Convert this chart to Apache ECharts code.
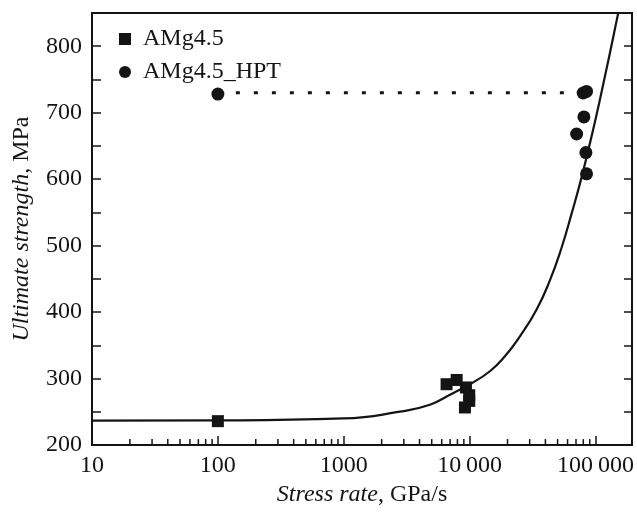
<!DOCTYPE html>
<html>
<head>
<meta charset="utf-8">
<script src="https://cdn.jsdelivr.net/npm/echarts@6/dist/echarts.min.js"></script>
<style>
html,body{margin:0;padding:0;background:#fff;}
#chart{width:637px;height:512px;}
</style>
</head>
<body>
<div id="chart"></div>
<script>
// ---- data ----
const seriesNames = ['AMg4.5', 'AMg4.5_HPT'];
// AMg4.5 (squares): [stress rate GPa/s, ultimate strength MPa]
const amgRate     = [100, 6560, 7890, 9350, 9930, 9930, 9180];
const amgStrength = [236, 291.6, 298, 286.7, 275, 266.5, 256.6];
// AMg4.5_HPT (circles)
const hptRate     = [100, 79800, 84900, 80900, 70800, 83900, 84900];
const hptStrength = [728, 729.7, 732, 693.7, 668, 640, 608];
// dotted connector
const dotRate     = [100, 80000];
const dotStrength = [730, 730];
// fitted curve
const curveRate     = [10, 100, 1000, 2790, 4840, 6980, 10050, 14490, 19070, 25100, 34070, 43420, 53830, 64600, 75220, 87040, 108400, 151400];
const curveStrength = [236.8, 237.2, 240.1, 250.3, 260.8, 275.8, 291.6, 311.1, 333.6, 363.6, 404.1, 447.7, 497.2, 548.2, 593.3, 641.3, 719.4, 849.5];
// axis ticks
const xTickValues = [10, 100, 1000, 10000, 100000];
const xTickLabels = ['10', '100', '1000', '10\u2009000', '100\u2009000'];
const xMinorTicks = [20,30,40,50,60,70,80,90,200,300,400,500,600,700,800,900,2000,3000,4000,5000,6000,7000,8000,9000,20000,30000,40000,50000,60000,70000,80000,90000];
const yTickLabels = ['200','300','400','500','600','700','800'];

const pairs = (a, b) => a.map((v, i) => [v, b[i]]);
const FONT = "'Liberation Serif', 'Times New Roman', Times, serif";
const INK = '#141414';

const chart = echarts.init(document.getElementById('chart'), null, {renderer: 'canvas'});
chart.setOption({
  backgroundColor: '#fff',
  animation: false,
  grid: {left: 92, right: 5, top: 13, bottom: 66, show: true, borderColor: INK, borderWidth: 2, backgroundColor: 'transparent'},
  legend: {
    orient: 'vertical', left: 114, top: 22, itemWidth: 12, itemHeight: 12, itemGap: 9,
    data: [{name: seriesNames[0], icon: 'rect'}, {name: seriesNames[1], icon: 'circle'}],
    itemStyle: {opacity: 1},
    textStyle: {fontFamily: FONT, fontSize: 24, color: INK, padding: [0, 0, 0, 7]}
  },
  xAxis: {
    type: 'log', logBase: 10, min: 10, max: 195000,
    axisLine: {show: true, lineStyle: {color: INK, width: 2}},
    axisTick: {show: true, inside: true, length: 9, lineStyle: {color: INK, width: 1.5}},
    splitLine: {show: false},
    axisLabel: {
      fontFamily: FONT, fontSize: 24, color: INK, margin: 9, showMaxLabel: false,
      formatter: v => { const i = xTickValues.findIndex(t => Math.abs(t - v) / t < 1e-6); return i >= 0 ? xTickLabels[i] : ''; }
    },
    name: '{i|Stress rate}{n|, GPa/s}', nameLocation: 'middle', nameGap: 36,
    nameTextStyle: {rich: {i: {fontFamily: FONT, fontSize: 24, fontStyle: 'italic', color: INK}, n: {fontFamily: FONT, fontSize: 24, color: INK}}}
  },
  yAxis: [{
    type: 'value', min: 200, max: 850, interval: 50,
    axisLine: {show: true, lineStyle: {color: INK, width: 2}},
    axisTick: {show: true, inside: true, length: 9, lineStyle: {color: INK, width: 1.5}},
    splitLine: {show: false},
    axisLabel: {fontFamily: FONT, fontSize: 24, color: INK, margin: 10,
      formatter: v => yTickLabels.indexOf(String(v)) >= 0 ? String(v) : ''},
    name: '{i|Ultimate strength}{n|, MPa}', nameLocation: 'middle', nameGap: 58,
    nameTextStyle: {rich: {i: {fontFamily: FONT, fontSize: 24, fontStyle: 'italic', color: INK}, n: {fontFamily: FONT, fontSize: 24, color: INK}}}
  }, {
    type: 'value', min: 200, max: 850, interval: 50, position: 'right',
    axisLine: {show: true, lineStyle: {color: INK, width: 2}},
    axisTick: {show: true, inside: true, length: 8, lineStyle: {color: INK, width: 1.5}},
    axisLabel: {show: false}, splitLine: {show: false}
  }],
  series: [
    {
      name: 'curve', type: 'line', data: pairs(curveRate, curveStrength), smooth: 0.5,
      showSymbol: false, symbol: 'none', lineStyle: {color: INK, width: 2.2}, z: 2, silent: true
    },
    {
      name: 'dots', type: 'line', data: pairs(dotRate, dotStrength), showSymbol: false, symbol: 'none',
      lineStyle: {color: INK, width: 3, type: [4, 14], cap: 'butt'}, z: 2, silent: true
    },
    {
      name: seriesNames[0], type: 'scatter', symbol: 'rect', symbolSize: 12,
      data: pairs(amgRate, amgStrength), itemStyle: {color: INK, opacity: 1}, z: 3
    },
    {
      name: seriesNames[1], type: 'scatter', symbol: 'circle', symbolSize: 13,
      data: pairs(hptRate, hptStrength), itemStyle: {color: INK, opacity: 1}, z: 3
    },
    {
      name: 'minorTicks', type: 'scatter', symbol: 'rect', symbolSize: [1.5, 5], symbolOffset: [0, -3.5],
      data: xMinorTicks.map(v => [v, 200]), itemStyle: {color: INK, opacity: 1}, clip: false, silent: true, z: 4
    }
  ]
});
</script>
</body>
</html>
